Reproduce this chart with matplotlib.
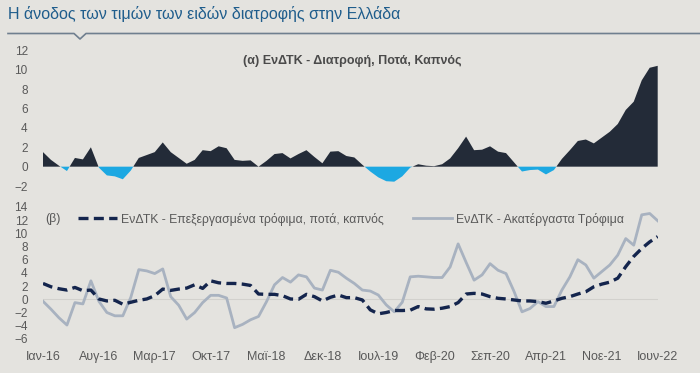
import numpy as np
import matplotlib
matplotlib.use("Agg")
import matplotlib.pyplot as plt

# ΕνΔΤΚ - Διατροφή, Ποτά, Καπνός (ετήσια μεταβολή %), Ιαν-16 .. Ιουν-22
food_total = [1.5, 0.7, 0.1, -0.45, 0.9, 0.75, 2.0, -0.1, -0.9, -1.0,
              -1.3, -0.4, 0.9, 1.2, 1.5, 2.5, 1.5, 0.9, 0.3, 0.7,
              1.7, 1.6, 2.1, 1.9, 0.7, 0.6, 0.65, 0.0, 0.6, 1.3,
              1.4, 0.85, 1.3, 1.7, 1.0, 0.35, 1.55, 1.6, 1.1, 0.95,
              0.2, -0.5, -1.1, -1.5, -1.55, -1.0, -0.1, 0.25, 0.1, 0.05,
              0.25, 0.85, 1.9, 3.1, 1.7, 1.75, 2.1, 1.55, 1.4, 0.45,
              -0.5, -0.35, -0.3, -0.8, -0.35, 0.8, 1.7, 2.65, 2.8, 2.4,
              3.0, 3.6, 4.4, 5.85, 6.7, 8.9, 10.2, 10.4]

processed = [2.4, 1.9, 1.6, 1.4, 1.8, 1.3, 1.4, 0.05, -0.25, -0.15,
             -0.75, -0.45, -0.15, 0.05, 0.55, 1.55, 1.35, 1.55, 1.7, 2.2,
             1.65, 2.8, 2.5, 2.4, 2.4, 2.3, 2.1, 0.8, 0.75, 0.75,
             0.55, 0.05, 0.0, 0.75, 0.4, -0.25, 0.3, 0.65, 0.25, 0.25,
             -0.1, -1.6, -2.2, -2.0, -1.7, -1.7, -1.65, -1.1, -1.45, -1.5,
             -1.35, -1.1, -0.5, 0.8, 0.9, 0.8, 0.4, 0.15, 0.05, -0.1,
             -0.25, -0.25, -0.35, -0.6, -0.25, 0.15, 0.4, 0.8, 1.15, 1.9,
             2.3, 2.6, 3.2, 4.95, 6.5, 7.7, 8.7, 9.5]

unprocessed = [-0.3, -1.5, -2.8, -3.9, -0.5, -0.7, 2.8, -0.3, -2.0, -2.5,
               -2.5, 0.3, 4.5, 4.3, 3.9, 4.6, 0.4, -0.9, -3.0, -2.0,
               -0.5, 0.6, 0.6, 0.2, -4.3, -3.8, -3.1, -2.6, -0.35, 2.2,
               3.3, 2.6, 3.7, 3.4, 1.7, 1.4, 4.4, 4.1, 3.2, 2.4,
               1.4, 1.25, 0.65, -0.85, -1.9, -0.45, 3.4, 3.5, 3.4, 3.3,
               3.3, 4.9, 8.4, 5.6, 2.9, 3.7, 5.4, 4.4, 3.9, 1.2,
               -1.9, -1.4, -0.35, -1.1, -1.1, 1.4, 3.4, 6.0, 5.2, 3.2,
               4.2, 5.2, 6.7, 9.2, 8.2, 12.8, 13.0, 11.9]

tick_labels = ["Ιαν-16", "Αυγ-16", "Μαρ-17", "Οκτ-17", "Μαϊ-18", "Δεκ-18",
               "Ιουλ-19", "Φεβ-20", "Σεπ-20", "Απρ-21", "Νοε-21", "Ιουν-22"]

plt.rcParams["font.family"] = ["Liberation Sans", "DejaVu Sans"]

bg = "#e4e3df"
dark = "#232b38"
blue = "#1ca8e2"
navy = "#14254d"
grey_line = "#a8b2c0"
txt = "#595959"

fig = plt.figure(figsize=(7, 3.73), dpi=100, facecolor=bg)

x = np.arange(len(food_total))
top = np.array(food_total)

# title and rule with a small notch
fig.text(8 / 700, 1 - 14 / 373, "Η άνοδος των τιμών των ειδών διατροφής στην Ελλάδα",
         fontsize=11.5, color="#1f5d8c", va="center", ha="left")
lx = np.array([8, 74, 80, 86, 700]) / 700
ly = 1 - np.array([33.5, 33.5, 39, 33.5, 33.5]) / 373
fig.add_artist(plt.Line2D(lx, ly, color="#6f7f8f", lw=1.2))

left, width = 43 / 700, (657.7 - 43) / 700

# (α) panel
ax1 = fig.add_axes([left, 1 - 188 / 373, width, (188 - 47.4) / 373])
ax1.set_facecolor(bg)
ax1.fill_between(x, top, 0, where=top >= 0, interpolate=True, color=dark, lw=0)
ax1.fill_between(x, top, 0, where=top <= 0, interpolate=True, color=blue, lw=0)
ax1.set_xlim(0, 77)
ax1.set_ylim(-2.2, 12.3)
ax1.set_yticks(range(-2, 13, 2))
ax1.set_xticks([])
ax1.tick_params(axis="y", length=0, pad=11, labelsize=8.5, labelcolor=txt)
for s in ax1.spines.values():
    s.set_visible(False)
ax1.text(0.325, 0.9, "(α) ΕνΔΤΚ - Διατροφή, Ποτά, Καπνός", transform=ax1.transAxes,
         fontsize=9, fontweight="bold", color="#4a4a4a", va="center", ha="left")

# (β) panel
ax2 = fig.add_axes([left, 1 - 342.2 / 373, width, (342.2 - 203.6) / 373])
ax2.set_facecolor(bg)
ax2.axhline(0, color="#d2d1cd", lw=0.8)
ax2.plot(x, unprocessed, color=grey_line, lw=2,
         label="ΕνΔΤΚ - Ακατέργαστα Τρόφιμα")
ax2.plot(x, processed, color=navy, lw=2.4, ls=(0, (3, 1.6)),
         label="ΕνΔΤΚ - Επεξεργασμένα τρόφιμα, ποτά, καπνός")
ax2.set_xlim(0, 77)
ax2.set_ylim(-6.5, 14.5)
ax2.set_yticks(range(-6, 15, 2))
ax2.set_xticks(range(0, 78, 7))
ax2.set_xticklabels(tick_labels)
ax2.tick_params(axis="y", length=0, pad=11, labelsize=8.5, labelcolor=txt)
ax2.tick_params(axis="x", length=0, pad=6, labelsize=9, labelcolor=txt)
for s in ax2.spines.values():
    s.set_visible(False)

leg_y = 1 - (219 - 203.6) / 138.6
ax2.text(0.003, leg_y, "(β)", transform=ax2.transAxes,
         fontsize=9, color=txt, va="center", ha="left")
h, l = ax2.get_legend_handles_labels()
leg1 = ax2.legend([h[1]], [l[1]], loc="center left", frameon=False,
                  bbox_to_anchor=((78 - 43) / 615, leg_y),
                  fontsize=8.8, handlelength=3.2, handletextpad=0.3,
                  borderaxespad=0, borderpad=0, labelcolor=txt)
ax2.add_artist(leg1)
ax2.legend([h[0]], [l[0]], loc="center left", frameon=False,
           bbox_to_anchor=((413 - 43) / 615, leg_y),
           fontsize=8.8, handlelength=3.2, handletextpad=0.3,
           borderaxespad=0, borderpad=0, labelcolor=txt)

fig.savefig("out.png", dpi=100, facecolor=bg)
